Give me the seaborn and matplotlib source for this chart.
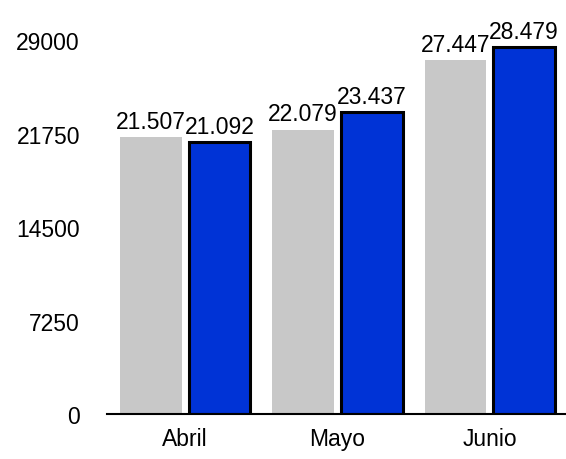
import pandas as pd
import seaborn as sns
import matplotlib.pyplot as plt

months = ['Abril', 'Mayo', 'Junio']
prev_values = [21507, 22079, 27447]
curr_values = [21092, 23437, 28479]
y_ticks = [0, 7250, 14500, 21750, 29000]

df = pd.DataFrame({
  'mes': months * 2,
  'serie': ['anterior'] * 3 + ['actual'] * 3,
  'valor': prev_values + curr_values,
})

sns.set_style('white')
plt.rcParams['font.family'] = ['Liberation Sans', 'DejaVu Sans']
plt.rcParams['text.color'] = 'black'
plt.rcParams['xtick.color'] = 'black'
plt.rcParams['ytick.color'] = 'black'

fig = plt.figure(figsize=(5.66, 4.6), dpi=100)
ax = fig.add_axes([0.189, 0.097, 0.811, 0.813])
sns.barplot(data=df, x='mes', y='valor', hue='serie', ax=ax,
            palette=['#c8c8c8', '#0033d6'], width=0.9, gap=0.1,
            legend=False, errorbar=None, saturation=1)

for c in ax.containers[1]:
  c.set_edgecolor('black')
  c.set_linewidth(2.2)
for c in ax.containers[0]:
  c.set_linewidth(0)

def fmt(v):
  return '{:,}'.format(v).replace(',', '.')

ax.bar_label(ax.containers[0], labels=[fmt(v) for v in prev_values], padding=3, fontsize=16.5)
ax.bar_label(ax.containers[1], labels=[fmt(v) for v in curr_values], padding=3, fontsize=16.5)

ax.set_ylim(0, 29000)
ax.set_xlim(-0.513, 2.5)
ax.set_yticks(y_ticks)
ax.set_yticklabels([str(t) for t in y_ticks], fontsize=16.5)
ax.tick_params(axis='x', labelsize=16.5, length=0, pad=9)
ax.tick_params(axis='y', length=0, pad=19.5)
ax.set_xlabel('')
ax.set_ylabel('')
for s in ['top', 'right', 'left']:
  ax.spines[s].set_visible(False)
ax.spines['bottom'].set_color('black')
ax.spines['bottom'].set_linewidth(1.5)

fig.savefig('out.png', dpi=100)
